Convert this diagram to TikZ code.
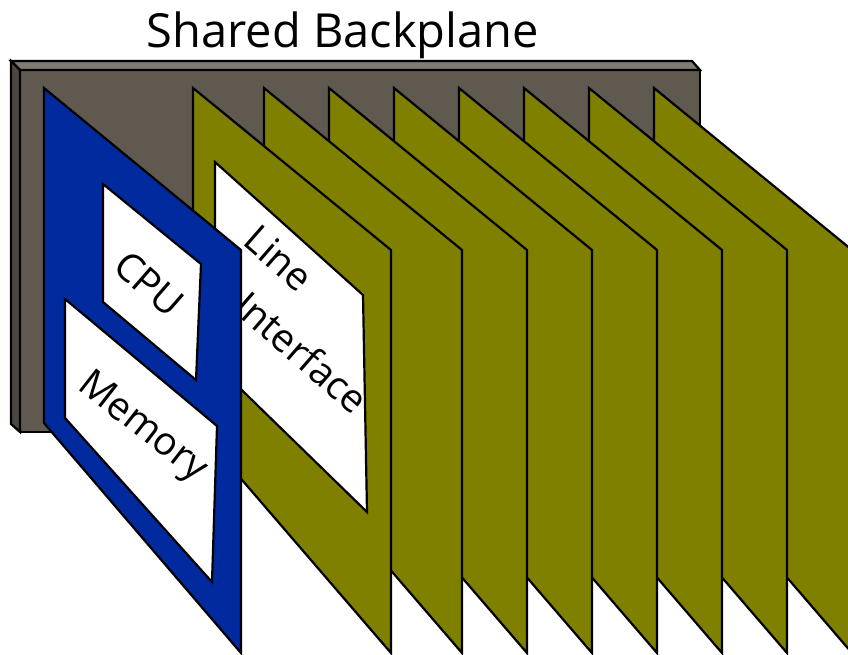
\documentclass[tikz,border=0pt]{standalone}
\usepackage{fontspec}
\setmainfont{Open Sans}
\definecolor{plane}{HTML}{5F5950}
\definecolor{planetop}{HTML}{807B73}
\definecolor{planeside}{HTML}{4C4740}
\definecolor{cardgreen}{HTML}{808000}
\definecolor{cardblue}{HTML}{002A9E}
\tikzset{
  edge/.style={draw=black,line width=2.2pt,line join=miter,miter limit=10},
  greencard/.style={edge,fill=cardgreen},
  bluecard/.style={edge,fill=cardblue},
  chip/.style={edge,fill=white},
  label/.style={font=\fontsize{39}{42}\selectfont,inner sep=0pt,align=center,text=black},
}
\newcommand{\greenat}[1]{\draw[greencard] (#1,88) -- ++(198,162) -- ++(0,403) -- ++(-198,-230) -- cycle;}
\begin{document}
\begin{tikzpicture}[x=1pt,y=-1pt]
\useasboundingbox (0,0) rectangle (848,654);
\begin{scope}
\clip (0,0) rectangle (848,654);
% backplane
\draw[edge,fill=plane] (20,70) -- (700,70) -- (700,432) -- (20,432) -- cycle;
\draw[edge,fill=planetop] (11,61) -- (692,61) -- (700,70) -- (20,70) -- cycle;
\draw[edge,fill=planeside] (11,61) -- (20,70) -- (20,432) -- (11,424) -- cycle;
% line cards, back to front
\greenat{654}
\greenat{589}
\greenat{524}
\greenat{459}
\greenat{394}
\greenat{329}
\greenat{264}
\greenat{193}
\draw[chip] (215,162) -- (363,295) -- (367,512) -- (215,364) -- cycle;
\node[label,rotate=-41] (line) at (279,258) {Line};
\node[label,rotate=-41] (iface) at (302,352) {Interface};
% processor card
\draw[bluecard] (44,88) -- (241,250) -- (241,653) -- (44,423) -- cycle;
\draw[chip] (103,184) -- (201,264) -- (196,380) -- (103,302) -- cycle;
\draw[chip] (65,299) -- (217,426) -- (212,582) -- (65,418) -- cycle;
\node[label,rotate=-41] (cpu) at (149,284) {CPU};
\node[label,rotate=-38] (mem) at (142,428) {Memory};
\end{scope}
\node[font=\fontsize{47}{50}\selectfont,inner sep=0pt] (title) at (343,35) {Shared Backplane};
\end{tikzpicture}
\end{document}
